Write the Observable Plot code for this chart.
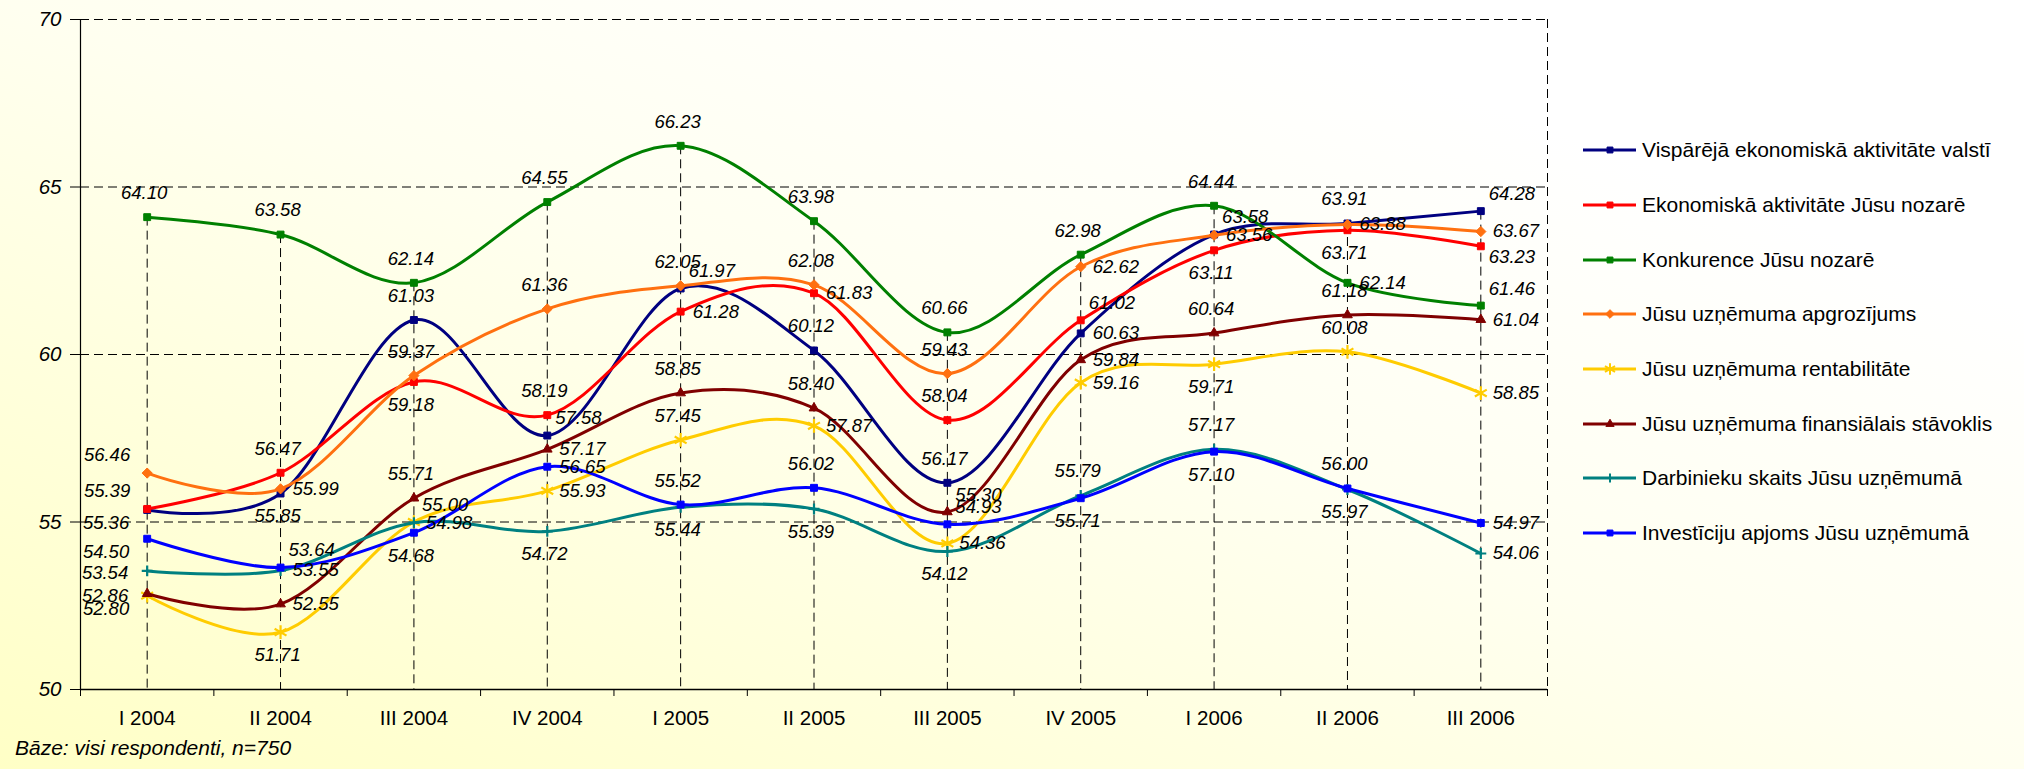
<!DOCTYPE html>
<html><head><meta charset="utf-8">
<script src="https://cdn.jsdelivr.net/npm/d3@7"></script>
<script src="https://cdn.jsdelivr.net/npm/@observablehq/plot@0.6"></script>
<style>
html,body{margin:0;padding:0;}
body{width:2024px;height:769px;overflow:hidden;background:linear-gradient(to top right,#ffffc6 0%,#fffff0 50%,#ffffff 80%);font-family:"Liberation Sans",Arial,sans-serif;}
#wrap{position:relative;width:2024px;height:769px;}
#chart{position:absolute;left:0;top:0;}
#chart svg{background:transparent;}
#legend{position:absolute;left:1582px;top:123px;}
.row{display:flex;align-items:center;height:54.7px;font-size:21px;color:#000;white-space:nowrap;}
.row svg{margin-right:4px;overflow:visible;}
#caption{position:absolute;left:15px;top:736px;font-size:21px;font-style:italic;line-height:24px;color:#000;}
</style></head><body>
<div id="wrap"><div id="chart"></div><div id="legend"></div><div id="caption">Bāze: visi respondenti, n=750</div></div>
<script>
const categories = ["I 2004","II 2004","III 2004","IV 2004","I 2005","II 2005","III 2005","IV 2005","I 2006","II 2006","III 2006"];
const yTicks = [50, 55, 60, 65, 70];
const seriesNames = [
  "Vispārējā ekonomiskā aktivitāte valstī",
  "Ekonomiskā aktivitāte Jūsu nozarē",
  "Konkurence Jūsu nozarē",
  "Jūsu uzņēmuma apgrozījums",
  "Jūsu uzņēmuma rentabilitāte",
  "Jūsu uzņēmuma finansiālais stāvoklis",
  "Darbinieku skaits Jūsu uzņēmumā",
  "Investīciju apjoms Jūsu uzņēmumā"
];
const visparejaAktivitate = [55.36, 55.85, 61.03, 57.58, 61.97, 60.12, 56.17, 60.63, 63.58, 63.91, 64.28];
const nozaresAktivitate   = [55.39, 56.47, 59.18, 58.19, 61.28, 61.83, 58.04, 61.02, 63.11, 63.71, 63.23];
const konkurence          = [64.10, 63.58, 62.14, 64.55, 66.23, 63.98, 60.66, 62.98, 64.44, 62.14, 61.46];
const apgrozijums         = [56.46, 55.99, 59.37, 61.36, 62.05, 62.08, 59.43, 62.62, 63.56, 63.88, 63.67];
const rentabilitate       = [52.80, 51.71, 55.00, 55.93, 57.45, 57.87, 54.36, 59.16, 59.71, 60.08, 58.85];
const finansialais        = [52.86, 52.55, 55.71, 57.17, 58.85, 58.40, 55.30, 59.84, 60.64, 61.18, 61.04];
const darbinieki          = [53.54, 53.55, 54.98, 54.72, 55.44, 55.39, 54.12, 55.79, 57.17, 55.97, 54.06];
const investicijas        = [54.50, 53.64, 54.68, 56.65, 55.52, 56.02, 54.93, 55.71, 57.10, 56.00, 54.97];
const seriesValues = [visparejaAktivitate, nozaresAktivitate, konkurence, apgrozijums, rentabilitate, finansialais, darbinieki, investicijas];

// label placement codes (Excel-like label position per point)
const labelPlacement = [
  ["bl","b","t","tr","tr","t","t","r","tr","t","tr"],
  ["tl","t","b","t","r","r","t","tr","b","b","br"],
  ["t","t","t","t","t","t","t","t","t","r","tr"],
  ["tl","r","t","t","t","t","t","r","r","r","r"],
  ["bl","b","tr","r","t","r","r","r","b","t","r"],
  ["l","r","t","r","t","t","tr","r","t","t","r"],
  ["l","r","r","b","b","b","b","t","t","b","r"],
  ["bl","tr","b","r","t","t","tr","b","b","t","r"]
];

// styles
const colors = ["#000080","#ff0000","#008000","#ff7010","#ffcc00","#800000","#008080","#0000ff"];
const symbols = ["square","square","square","diamond2","asterisk","triangle","plus","square"];
const symbolR = {square:3.9, diamond2:4.6, asterisk:6.5, triangle:3.6, plus:3.6};
const strokedSymbols = new Set(["asterisk","plus"]);
const placements = {
  t:  {textAnchor:"middle", dx:-3, dy:-24},
  b:  {textAnchor:"middle", dx:-3, dy:23},
  r:  {textAnchor:"start", dx:12, dy:0},
  tr: {textAnchor:"start", dx:8, dy:-17},
  br: {textAnchor:"start", dx:8, dy:11},
  l:  {textAnchor:"end", dx:-19, dy:2},
  tl: {textAnchor:"end", dx:-17, dy:-18},
  bl: {textAnchor:"end", dx:-18, dy:13}
};

const rows = [];
seriesValues.forEach((vals, si) => vals.forEach((v, i) => rows.push({s: si, i, v, pos: labelPlacement[si][i]})));
const drops = categories.map((c, i) => ({i, top: d3.max(seriesValues, vals => vals[i])}));

const font = '"Liberation Sans", Arial, sans-serif';
const dash = "9,5";
const marks = [
  Plot.ruleY([55, 60, 65, 70], {stroke: "#000", strokeWidth: 1, strokeDasharray: dash}),
  Plot.ruleX(drops, {x: "i", y1: "top", y2: 50, stroke: "#000", strokeWidth: 1, strokeDasharray: dash}),
  Plot.ruleX([10.5], {stroke: "#000", strokeWidth: 1, strokeDasharray: dash}),
  Plot.ruleX([-0.5], {stroke: "#000", strokeWidth: 1.2}),
  Plot.ruleY([50], {stroke: "#000", strokeWidth: 1.5}),
  Plot.axisY({ticks: yTicks, tickSize: 10, tickPadding: 9, tickFormat: d => String(d), fontSize: 20.5, fontStyle: "italic", fontFamily: font, label: null, stroke: "#000"}),
  Plot.axisX({ticks: d3.range(11), tickSize: 0, tickPadding: 21, tickFormat: i => categories[i], fontSize: 20.5, fontFamily: font, label: null}),
  Plot.axisX({ticks: d3.range(-0.5, 11, 1), tickSize: 7, tickFormat: () => "", label: null})
];
seriesValues.forEach((vals, si) => {
  marks.push(Plot.line(rows.filter(d => d.s === si), {x: "i", y: "v", stroke: colors[si], strokeWidth: 3, curve: "cardinal"}));
  const sym = symbols[si];
  const stroked = strokedSymbols.has(sym);
  marks.push(Plot.dot(rows.filter(d => d.s === si), {
    x: "i", y: "v", symbol: sym, r: symbolR[sym],
    fill: stroked ? "none" : colors[si], stroke: colors[si], strokeWidth: stroked ? 2.2 : 1
  }));
});
const fmt = d3.format(".2f");
Object.entries(placements).forEach(([code, p]) => {
  marks.push(Plot.text(rows.filter(d => d.pos === code), {
    x: "i", y: "v", text: d => fmt(d.v), textAnchor: p.textAnchor, dx: p.dx, dy: p.dy,
    fontSize: 18.5, fontStyle: "italic", fontFamily: font, fill: "#000"
  }));
});

const chart = Plot.plot({
  width: 1560, height: 737,
  marginLeft: 80, marginRight: 13, marginTop: 19, marginBottom: 48,
  style: {background: "transparent", fontFamily: font, color: "#000"},
  x: {type: "linear", domain: [-0.5, 10.5], axis: null},
  y: {domain: [50, 70], axis: null},
  marks
});
document.getElementById("chart").appendChild(chart);

// legend
const legend = d3.select("#legend");
const d3sym = {square: d3.symbolSquare, diamond2: d3.symbolDiamond2, asterisk: d3.symbolAsterisk, triangle: d3.symbolTriangle, plus: d3.symbolPlus};
seriesNames.forEach((name, si) => {
  const row = legend.append("div").attr("class", "row");
  const svg = row.append("svg").attr("width", 56).attr("height", 20);
  svg.append("line").attr("x1", 1).attr("x2", 54).attr("y1", 10).attr("y2", 10).attr("stroke", colors[si]).attr("stroke-width", 3);
  const sym = symbols[si];
  const stroked = strokedSymbols.has(sym);
  const r = symbolR[sym] * 0.85;
  svg.append("path").attr("transform", "translate(28,10)")
    .attr("d", d3.symbol(d3sym[sym], Math.PI * r * r)())
    .attr("fill", stroked ? "none" : colors[si]).attr("stroke", colors[si]).attr("stroke-width", stroked ? 2 : 1);
  row.append("span").text(name);
});
</script>
</body></html>
